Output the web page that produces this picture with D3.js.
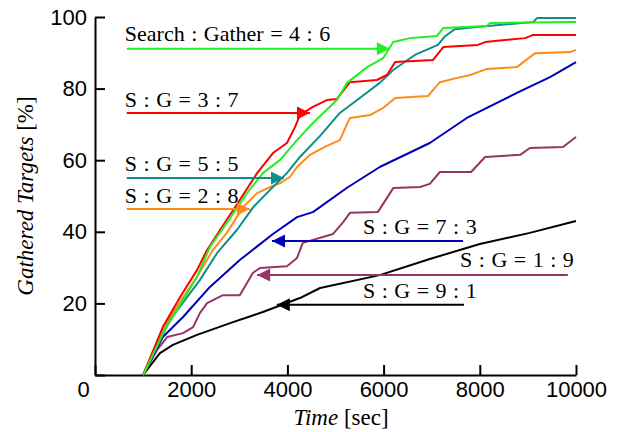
<!DOCTYPE html>
<html>
<head>
<meta charset="utf-8">
<script src="https://cdn.jsdelivr.net/npm/d3@7"></script>
<style>
    body { margin: 0; background: #fff; }
    svg { display: block; font-family: "Liberation Serif", "Times New Roman", serif; }
    .tick text { font-size: 22px; fill: #000; }
    .note { font-size: 22px; fill: #000; word-spacing: 1px; }
    .label { font-size: 23px; fill: #000; }
</style>
</head>
<body>
<svg></svg>
<script>
// [time (sec), gathered targets (%)]
var sg91 = [[1000,0],[1350,6.1],[1620,8.4],[2120,11.2],[2810,14.5],[3490,17.6],[4260,21.5],
    [4680,24.3],[5920,27.9],[6960,32.4],[8000,36.6],[9040,39.7],[10000,43.0]]
var sg19 = [[1000,0],[1290,7.0],[1500,10.6],[1830,11.7],[2040,13.4],[2180,17.3],[2330,20.1],
    [2660,22.3],[3010,22.3],[3160,25.7],[3280,28.5],[3430,29.9],[3990,30.4],[4200,32.7],
    [4320,36.9],[4950,39.4],[5160,42.7],[5300,45.3],[5880,45.5],[6200,52.2],[6760,52.5],
    [6960,53.4],[7170,56.7],[7820,56.7],[8110,60.9],[8840,61.5],[9040,63.4],[9730,63.7],[10000,66.5]]
var sg73 = [[1000,0],[1410,10.6],[1830,16.2],[2390,24.6],[3010,32.1],[3700,39.4],[4200,44.1],
    [4530,45.5],[5240,52.3],[5920,58.1],[6960,64.8],[7730,71.8],[8770,78.8],[9460,83.2],[10000,87.4]]
var sg28 = [[1000,0],[1520,15.4],[2120,27.4],[2450,34.9],[2740,39.7],[3080,46.9],[3370,50.8],
    [3640,52.5],[3850,53.6],[4050,55.3],[4200,58.1],[4470,61.5],[4780,63.7],[5090,65.6],
    [5260,70.7],[5300,71.8],[5720,72.6],[5990,74.6],[6240,77.4],[6920,77.9],[7170,81.8],
    [7530,83.0],[7800,83.8],[8150,85.5],[8770,86.0],[9150,89.9],[9880,90.2],[10000,90.8]]
var sg55 = [[1000,0],[1560,15.4],[2180,26.5],[2540,34.1],[2950,40.5],[3290,46.9],[3640,51.7],
    [3990,56.4],[4260,60.9],[4680,66.8],[5090,73.2],[5450,76.8],[5920,81.6],[6200,85.2],
    [6650,89.4],[7130,92.2],[7260,94.4],[7480,96.6],[7940,97.2],[9110,98.6],[9190,99.7],[10000,99.7]]
var sg37 = [[1000,0],[1410,13.4],[1770,21.8],[2120,29.3],[2330,34.9],[2600,40.5],[3010,48.9],
    [3370,56.4],[3700,62.0],[3990,64.8],[4160,69.3],[4260,72.6],[4530,74.9],[4820,76.8],
    [5030,77.1],[5300,81.8],[5860,82.4],[6070,83.8],[6240,87.4],[7030,88.0],[7240,91.6],
    [7960,92.2],[8110,93.0],[8940,94.1],[9110,95.0],[10000,95.0]]
var sg46 = [[1000,0],[1450,12.6],[2120,27.4],[2390,35.8],[2740,42.5],[3160,50.8],[3490,56.4],
    [3850,60.1],[4200,65.6],[4530,70.4],[5030,76.8],[5240,81.6],[5660,86.0],[5990,88.5],
    [6200,93.0],[6550,94.1],[7110,94.7],[7240,96.9],[8150,97.5],[8210,98.3],[10000,98.6]]

var seriesList = [sg91, sg19, sg73, sg28, sg55, sg37, sg46]
var seriesColors = ["#000000", "#993366", "#0000b4", "#ff8c1a", "#118c8c", "#ff0000", "#22ee22"]

var xTicks = [0, 2000, 4000, 6000, 8000, 10000]
var yTicks = [0, 20, 40, 60, 80, 100]

// label text, colour, text start/baseline, arrow y, arrow tail x, arrow tip x (data units)
var notes = [
    {text: "Search : Gather = 4 : 6", color: "#22ee22", tx: 620, ty: 93.3, ly: 91.1, from: 660, to: 6130},
    {text: "S : G = 3 : 7", color: "#ff0000", tx: 620, ty: 74.9, ly: 73.2, from: 660, to: 4470},
    {text: "S : G = 5 : 5", color: "#118c8c", tx: 620, ty: 57.0, ly: 55.0, from: 660, to: 3930},
    {text: "S : G = 2 : 8", color: "#ff8c1a", tx: 620, ty: 48.0, ly: 46.4, from: 660, to: 3220},
    {text: "S : G = 7 : 3", color: "#0000b4", tx: 5570, ty: 39.4, ly: 37.4, from: 7650, to: 3680},
    {text: "S : G = 1 : 9", color: "#993366", tx: 7590, ty: 30.2, ly: 27.9, from: 9830, to: 3370},
    {text: "S : G = 9 : 1", color: "#000000", tx: 5570, ty: 21.5, ly: 19.6, from: 7670, to: 3780}
]

var screen = {width: 617, height: 432}
var margins = {left: 95, right: 41, top: 17, bottom: 57}
var graph = {
    width: screen.width - margins.left - margins.right,
    height: screen.height - margins.top - margins.bottom
}

var svg = d3.select("svg")
    .attr("width", screen.width)
    .attr("height", screen.height)

var target = svg.append("g")
    .attr("transform", "translate(" + margins.left + "," + margins.top + ")")

var xScale = d3.scaleLinear()
    .domain([0, 10000])
    .range([0, graph.width])

var yScale = d3.scaleLinear()
    .domain([0, 100])
    .range([graph.height, 0])

// axes: ticks point inward
var xAxis = d3.axisBottom(xScale)
    .tickValues(xTicks)
    .tickFormat(d3.format("d"))
    .tickSize(-10)
    .tickSizeOuter(0)
    .tickPadding(6)

var yAxis = d3.axisLeft(yScale)
    .tickValues(yTicks)
    .tickFormat(function (d) { return d == 0 ? "" : d })
    .tickSize(-10)
    .tickSizeOuter(0)
    .tickPadding(8)

var gx = target.append("g")
    .attr("transform", "translate(0," + graph.height + ")")
    .call(xAxis)
var gy = target.append("g")
    .call(yAxis)

svg.selectAll(".domain, .tick line")
    .attr("stroke", "#000")
    .attr("stroke-width", 2)
svg.selectAll(".tick text")
    .attr("font-family", null)
    .attr("font-size", null)
gx.selectAll(".tick text")
    .filter(function (d) { return d == 0 })
    .attr("x", -12)

// curves
var lineGenerator = d3.line()
    .x(function (d) { return xScale(d[0]) })
    .y(function (d) { return yScale(d[1]) })

target.selectAll(".curve")
    .data(seriesList)
    .enter()
    .append("path")
    .classed("curve", true)
    .attr("d", lineGenerator)
    .attr("fill", "none")
    .attr("stroke", function (d, i) { return seriesColors[i] })
    .attr("stroke-width", 2)
    .attr("stroke-linejoin", "round")

// annotations with arrows
var noteGroups = target.selectAll(".noteg")
    .data(notes)
    .enter()
    .append("g")
    .classed("noteg", true)

noteGroups.append("text")
    .classed("note", true)
    .attr("x", function (n) { return xScale(n.tx) })
    .attr("y", function (n) { return yScale(n.ty) })
    .text(function (n) { return n.text })

noteGroups.append("line")
    .attr("x1", function (n) { return xScale(n.from) })
    .attr("x2", function (n) { return xScale(n.to) })
    .attr("y1", function (n) { return yScale(n.ly) })
    .attr("y2", function (n) { return yScale(n.ly) })
    .attr("stroke", function (n) { return n.color })
    .attr("stroke-width", 2)

noteGroups.append("path")
    .attr("d", function (n) {
        var tip = xScale(n.to)
        var y = yScale(n.ly)
        var dir = n.to > n.from ? 1 : -1
        var back = tip - dir * 13
        return "M" + tip + "," + y + "L" + back + "," + (y - 6.5) + "L" + back + "," + (y + 6.5) + "Z"
    })
    .attr("fill", function (n) { return n.color })

// axis titles
var xTitle = svg.append("text")
    .classed("label", true)
    .attr("text-anchor", "middle")
    .attr("x", 341)
    .attr("y", 425)
xTitle.append("tspan").attr("font-style", "italic").text("Time")
xTitle.append("tspan").text(" [sec]")

var yTitle = svg.append("text")
    .classed("label", true)
    .attr("text-anchor", "middle")
    .attr("transform", "translate(33," + (margins.top + graph.height / 2) + ") rotate(-90)")
yTitle.append("tspan").attr("font-style", "italic").text("Gathered Targets")
yTitle.append("tspan").text(" [%]")
</script>
</body>
</html>
